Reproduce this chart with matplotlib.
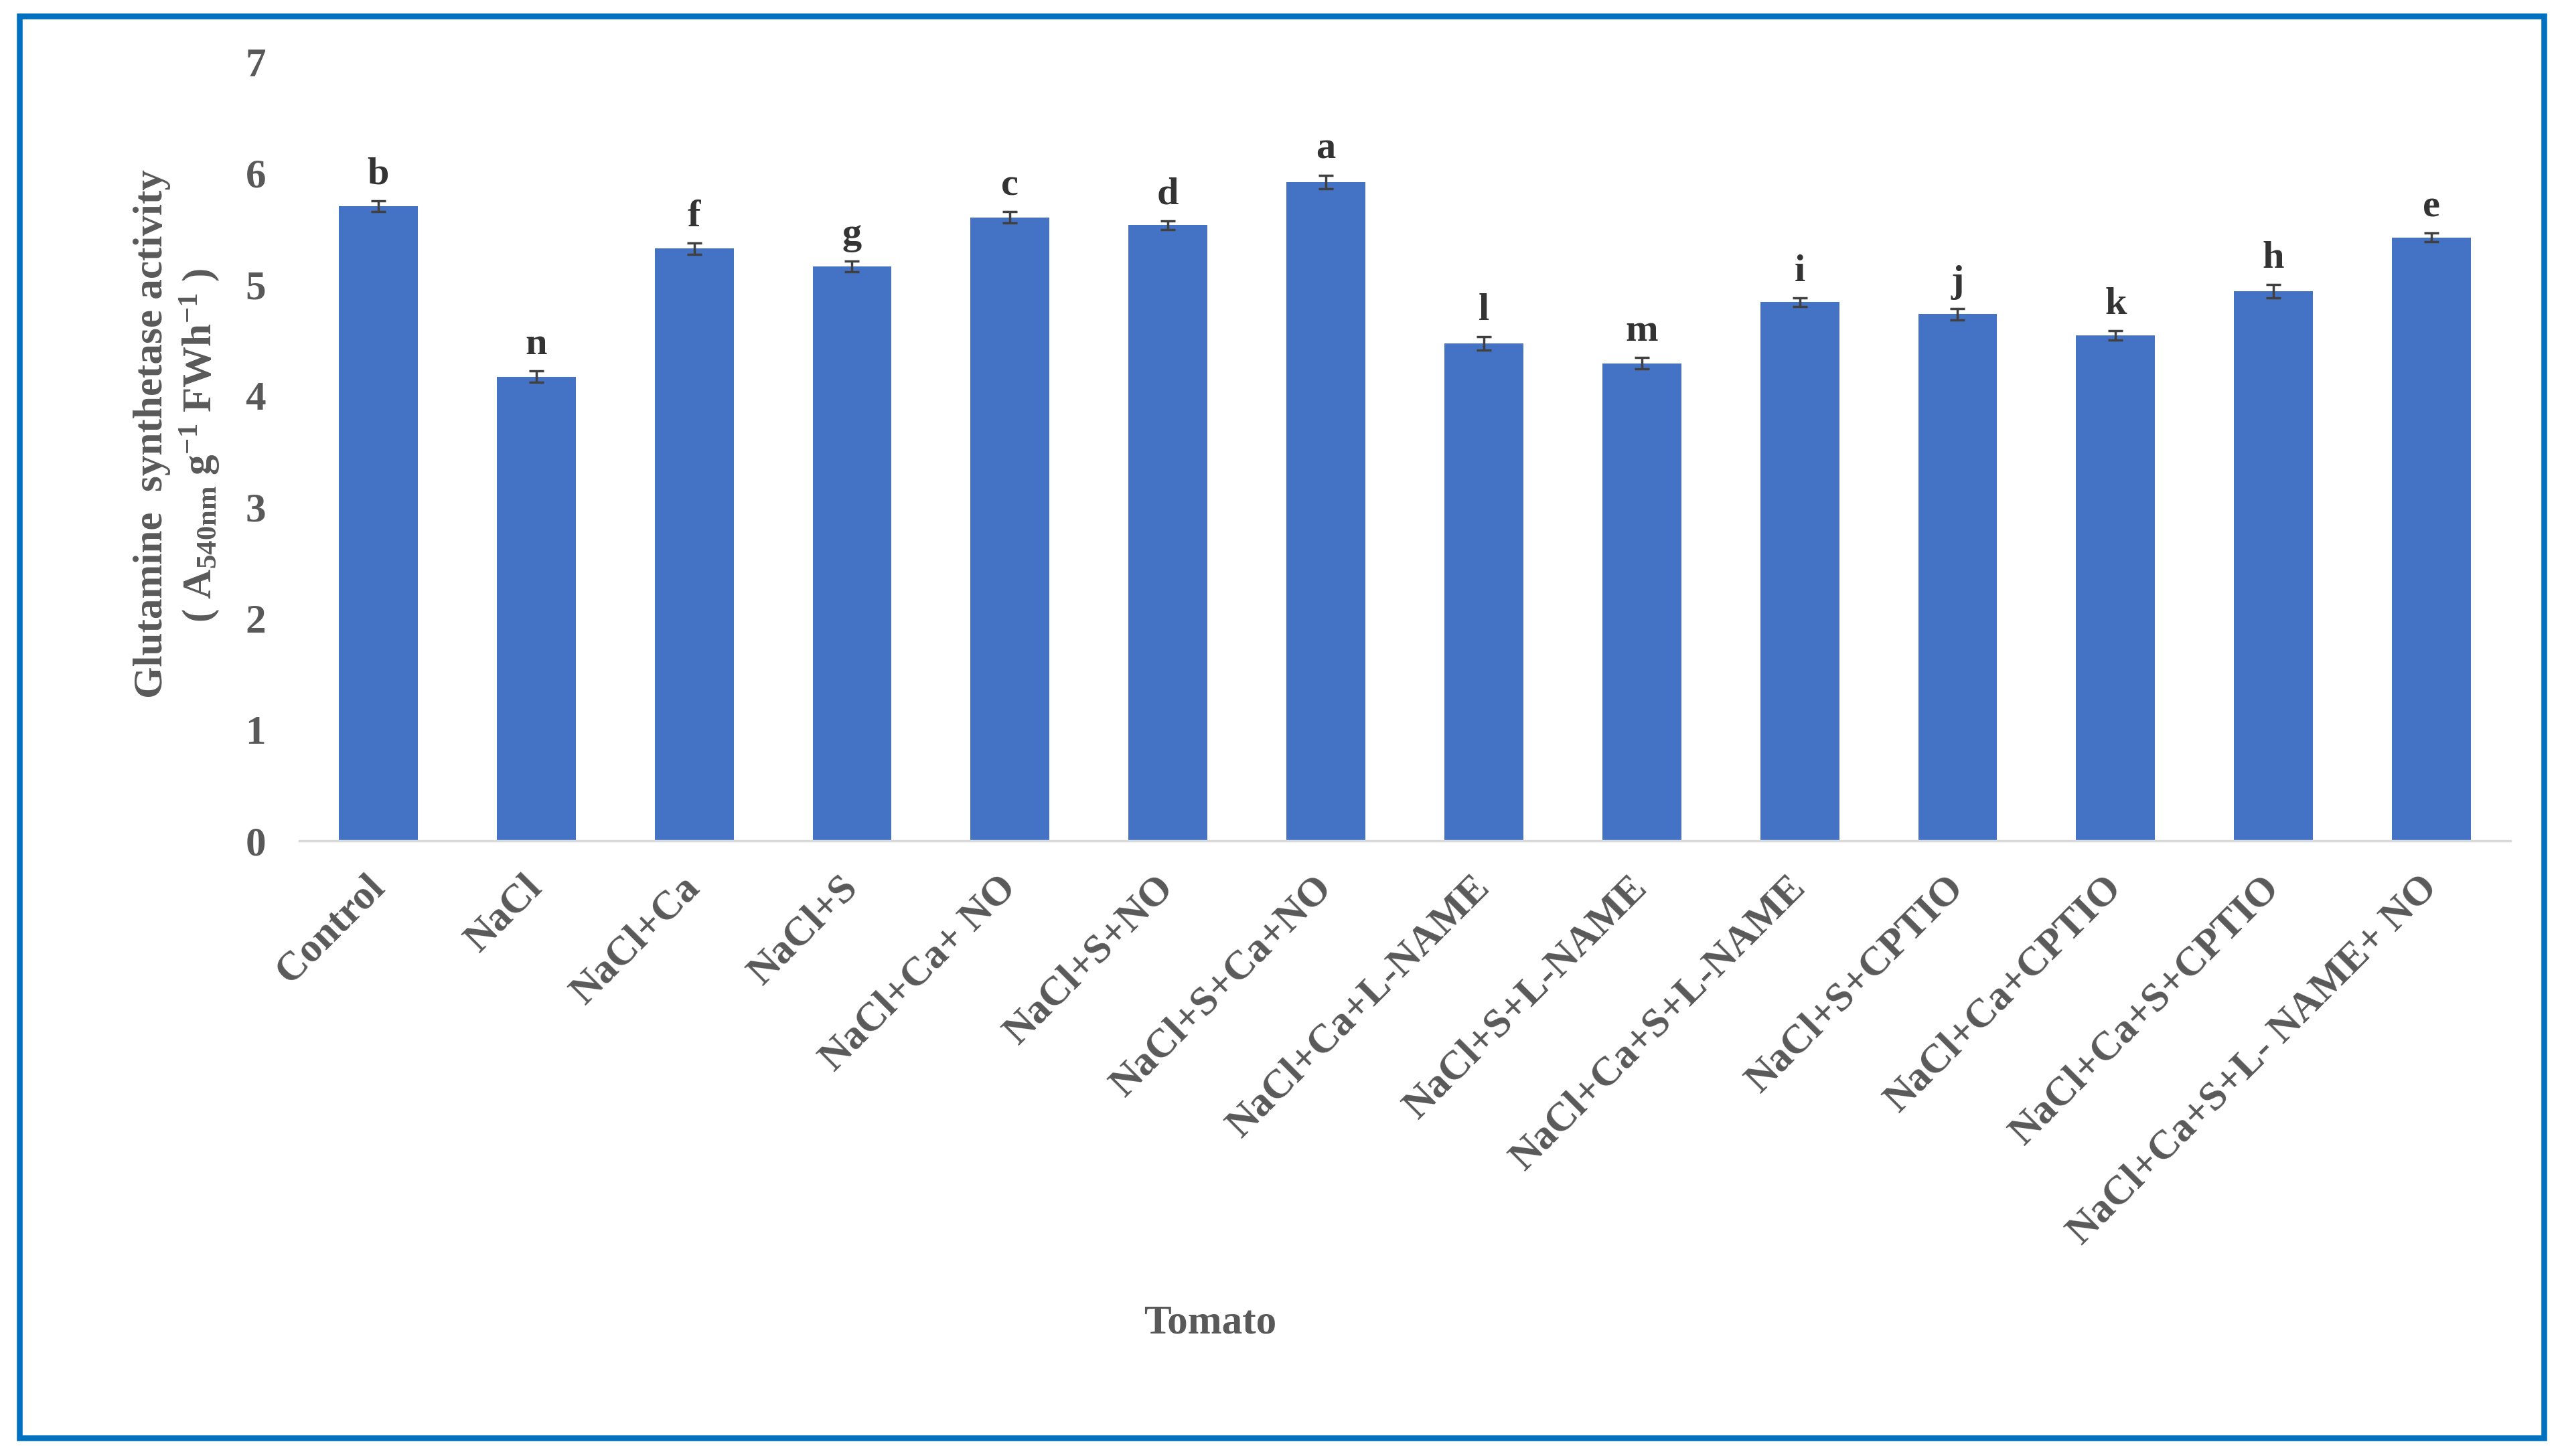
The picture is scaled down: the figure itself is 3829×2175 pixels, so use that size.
import matplotlib
matplotlib.use("Agg")
import matplotlib.pyplot as plt
from matplotlib.patches import Rectangle

categories = ["Control", "NaCl", "NaCl+Ca", "NaCl+S", "NaCl+Ca+ NO", "NaCl+S+NO",
              "NaCl+S+Ca+NO", "NaCl+Ca+L-NAME", "NaCl+S+L-NAME", "NaCl+Ca+S+L-NAME",
              "NaCl+S+CPTIO", "NaCl+Ca+CPTIO", "NaCl+Ca+S+CPTIO", "NaCl+Ca+S+L- NAME+ NO"]
values = [5.70, 4.17, 5.32, 5.16, 5.60, 5.53, 5.92, 4.47, 4.29, 4.84, 4.73, 4.54, 4.94, 5.42]
errors = [0.05, 0.05, 0.05, 0.05, 0.05, 0.04, 0.06, 0.06, 0.05, 0.04, 0.05, 0.04, 0.06, 0.04]
letters = ["b", "n", "f", "g", "c", "d", "a", "l", "m", "i", "j", "k", "h", "e"]
yticks = [0, 1, 2, 3, 4, 5, 6, 7]

plt.rcParams['font.family'] = ['Liberation Serif', 'DejaVu Serif']
plt.rcParams['font.weight'] = 'bold'
plt.rcParams['mathtext.fontset'] = 'custom'
plt.rcParams['mathtext.rm'] = 'Liberation Serif:bold'
plt.rcParams['mathtext.it'] = 'Liberation Serif:italic:bold'
plt.rcParams['mathtext.bf'] = 'Liberation Serif:bold'

gray = '#595959'
W, H = 3830, 2175
fig = plt.figure(figsize=(W / 100, H / 100), dpi=100)
ax = fig.add_axes([447 / W, 1 - 1256 / H, 3302 / W, (1256 - 92) / H])

x = range(len(categories))
ax.bar(x, values, width=0.5, color='#4472C4', zorder=2)
ax.errorbar(x, values, yerr=errors, fmt='none', ecolor='#404040',
            elinewidth=2.5, capsize=8, capthick=2.5, zorder=3)
for i, v in enumerate(values):
    ax.text(i, v + errors[i] + 0.15, letters[i], ha='center', va='baseline',
            fontsize=42, fontweight='bold', color='#333333')

ax.set_xlim(-0.5, len(categories) - 0.5)
ax.set_ylim(0, 7)
ax.set_yticks(yticks)
ax.set_yticklabels([str(t) for t in yticks], fontsize=44, color=gray, fontweight='bold')
ax.set_xticks(list(x))
ax.set_xticklabels(categories, rotation=45, ha='right', va='center',
                   rotation_mode='anchor', fontsize=44, color=gray, fontweight='bold')
ax.tick_params(axis='y', length=0, pad=36)
ax.tick_params(axis='x', length=0, pad=44)
for s in ['top', 'right', 'left']:
    ax.spines[s].set_visible(False)
ax.spines['bottom'].set_color('#D9D9D9')
ax.spines['bottom'].set_linewidth(2.5)

fig.text(227 / W, 1 - 648 / H, "Glutamine  synthetase activity", rotation=90,
         ha='center', va='center', fontsize=44, fontweight='bold', color=gray)
fig.text(298 / W, 1 - 665 / H,
         r"( A$_{\mathrm{540nm}}$ g$^{\mathrm{-1}}$ FWh$^{\mathrm{-1}}$ )",
         rotation=90, ha='center', va='center', fontsize=44, fontweight='bold', color=gray)
fig.text(1807 / W, 1 - 1976 / H, "Tomato", ha='center', va='center',
         fontsize=44, fontweight='bold', color=gray)

fig.patches.append(Rectangle((29 / W, 1 - 2147.5 / H), (3799 - 29) / W, (2147.5 - 23.5) / H,
                             transform=fig.transFigure, fill=False,
                             edgecolor='#0070C0', linewidth=6.2))

fig.savefig("out.png", dpi=100, facecolor='white')
